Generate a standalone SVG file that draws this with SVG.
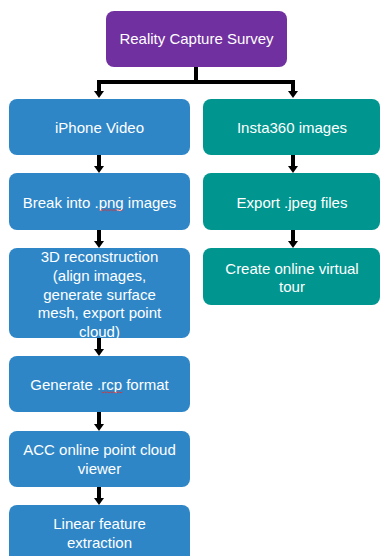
<svg xmlns="http://www.w3.org/2000/svg" width="381" height="556" viewBox="0 0 381 556">
  <defs>
    <style>
      .purple { fill: #7030A0; }
      .blue { fill: #2E86C7; }
      .teal { fill: #00968F; }
      .lbl { font-family: "Liberation Sans", Arial, sans-serif; font-size: 15px; fill: #FFFFFF; text-anchor: middle; }
      .conn { fill: none; stroke: #000000; stroke-width: 4; marker-end: url(#arr); }
      .spell { fill: none; stroke: #E03030; stroke-width: 0.8; }
    </style>
    <marker id="arr" viewBox="0 0 7 10" markerWidth="7" markerHeight="10" refX="0.5" refY="5" orient="auto" markerUnits="userSpaceOnUse">
      <path d="M0,0 L7,5 L0,10 Z" fill="#000000"/>
    </marker>
  </defs>
  <rect width="381" height="556" fill="#FFFFFF"/>

  <g id="connectors">
    <path class="conn" d="M196,67 V82 H99 V91.5"/>
    <path class="conn" d="M196,82 H293 V91.5"/>
    <path class="conn" d="M99,155 V166.5"/>
    <path class="conn" d="M99,230 V241.5"/>
    <path class="conn" d="M99,338 V349.5"/>
    <path class="conn" d="M99,412 V424.5"/>
    <path class="conn" d="M99,487 V498.5"/>
    <path class="conn" d="M293,155 V166.5"/>
    <path class="conn" d="M293,230 V241.5"/>
  </g>

  <g id="survey">
    <rect class="purple" x="106" y="11" width="181" height="56" rx="8"/>
    <text class="lbl" x="196.5" y="44">Reality Capture Survey</text>
  </g>

  <g id="iphone">
    <rect class="blue" x="9" y="99" width="181" height="56" rx="8"/>
    <text class="lbl" x="99.5" y="133">iPhone Video</text>
  </g>
  <g id="break">
    <rect class="blue" x="9" y="173" width="181" height="57" rx="8"/>
    <text class="lbl" x="99.5" y="207.5">Break into .png images</text>
    <path class="spell" d="M99,209.5 l1.5,1.2 l1.5,-1.2 l1.5,1.2 l1.5,-1.2 l1.5,1.2 l1.5,-1.2 l1.5,1.2 l1.5,-1.2 l1.5,1.2 l1.5,-1.2 l1.5,1.2 l1.5,-1.2 l1.5,1.2 l1.5,-1.2 l1.5,1.2 l1.5,-1.2"/>
  </g>
  <g id="recon">
    <rect class="blue" x="9" y="248" width="181" height="90" rx="8"/>
    <text class="lbl" x="99.5" y="262">3D reconstruction</text>
    <text class="lbl" x="99.5" y="281">(align images,</text>
    <text class="lbl" x="99.5" y="299.5">generate surface</text>
    <text class="lbl" x="99.5" y="318">mesh, export point</text>
    <text class="lbl" x="99.5" y="336.5">cloud)</text>
  </g>
  <g id="rcp">
    <rect class="blue" x="9" y="356" width="181" height="56" rx="8"/>
    <text class="lbl" x="99.5" y="389.5">Generate .rcp format</text>
    <path class="spell" d="M101.5,391.8 l1.5,1.2 l1.5,-1.2 l1.5,1.2 l1.5,-1.2 l1.5,1.2 l1.5,-1.2 l1.5,1.2 l1.5,-1.2 l1.5,1.2 l1.5,-1.2 l1.5,1.2 l1.5,-1.2 l1.5,1.2 l1.5,-1.2"/>
  </g>
  <g id="acc">
    <rect class="blue" x="9" y="431" width="181" height="56" rx="8"/>
    <text class="lbl" x="99.5" y="455">ACC online point cloud</text>
    <text class="lbl" x="99.5" y="473.5">viewer</text>
  </g>
  <g id="linear">
    <rect class="blue" x="9" y="505" width="181" height="58" rx="8"/>
    <text class="lbl" x="99.5" y="529">Linear feature</text>
    <text class="lbl" x="99.5" y="548">extraction</text>
  </g>

  <g id="insta">
    <rect class="teal" x="203" y="99" width="177" height="56" rx="8"/>
    <text class="lbl" x="292" y="133">Insta360 images</text>
  </g>
  <g id="export">
    <rect class="teal" x="203" y="173" width="177" height="57" rx="8"/>
    <text class="lbl" x="292" y="207.5">Export .jpeg files</text>
  </g>
  <g id="tour">
    <rect class="teal" x="203" y="248" width="177" height="57" rx="8"/>
    <text class="lbl" x="292" y="273.5">Create online virtual</text>
    <text class="lbl" x="292" y="292">tour</text>
  </g>
</svg>
